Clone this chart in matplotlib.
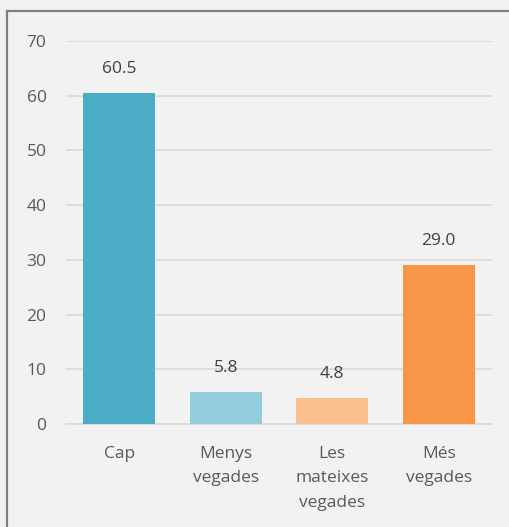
import matplotlib
matplotlib.use("Agg")
import matplotlib.pyplot as plt
from matplotlib.patches import Rectangle

categories = ["Cap", "Menys\nvegades", "Les\nmateixes\nvegades", "Més\nvegades"]
values = [60.5, 5.8, 4.8, 29.0]
colors = ["#4BACC6", "#93CDDD", "#FAC090", "#F79646"]
yticks = [0, 10, 20, 30, 40, 50, 60, 70]

plt.rcParams['font.family'] = ['Open Sans', 'DejaVu Sans']

fig = plt.figure(figsize=(5.09, 5.27), dpi=100)
fig.patch.set_facecolor("#F2F2F2")

# outer frame (only left/top visible in the original)
fig.patches.append(Rectangle((7/509, -0.1), 1.2, (527-11)/527 + 0.1,
                             transform=fig.transFigure, fill=False,
                             edgecolor="#7F7F7F", linewidth=1.6))

ax = fig.add_axes([66/509, 103/527, 426/509, 383/527])
ax.set_facecolor("#F2F2F2")

x = range(len(categories))
bars = ax.bar(x, values, width=0.676, color=colors, zorder=3)

for b, v in zip(bars, values):
    ax.text(b.get_x() + b.get_width()/2, v + 2.9, f"{v:.1f}",
            ha="center", va="bottom", fontsize=12.5, color="#404040")

ax.set_xlim(-0.5, 3.5)
ax.set_ylim(0, 70)
ax.set_yticks(yticks)
ax.yaxis.grid(True, color="#D9D9D9", linewidth=1.2, zorder=0)
ax.set_xticks(list(x))
ax.set_xticklabels(categories, fontsize=12.5, color="#595959", linespacing=1.68)
ax.tick_params(axis="y", labelsize=12.5, labelcolor="#595959", length=0, pad=14)
ax.tick_params(axis="x", length=0, pad=16)
for s in ["top", "right", "left"]:
    ax.spines[s].set_visible(False)
ax.spines["bottom"].set_color("#D9D9D9")
ax.spines["bottom"].set_linewidth(1.2)

fig.savefig("out.png", dpi=100, facecolor=fig.get_facecolor())
